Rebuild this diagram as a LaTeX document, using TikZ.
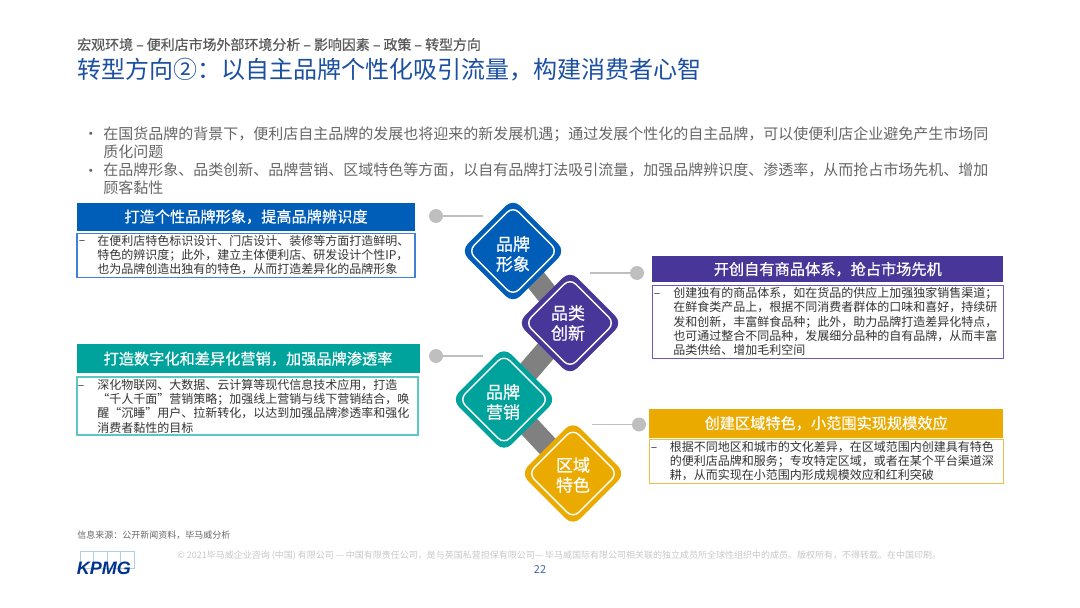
\documentclass[tikz,border=0pt]{standalone}
\usepackage{fontspec}
\setmainfont{Noto Sans CJK SC}
\newfontfamily\midfont[FakeBold=.6]{Noto Sans CJK SC}
\newfontfamily\logofont{Liberation Sans}
\usetikzlibrary{backgrounds}
\definecolor{kblue}{HTML}{005EB8}
\definecolor{kpurple}{HTML}{483698}
\definecolor{kteal}{HTML}{00A39B}
\definecolor{kgold}{HTML}{EAAA00}
\definecolor{kblueline}{HTML}{3F80DC}
\definecolor{kpurpleline}{HTML}{6A58C4}
\definecolor{ktealline}{HTML}{5CC8C2}
\definecolor{kgoldline}{HTML}{F2BC48}
\definecolor{ktitle}{HTML}{1B4FA0}
\definecolor{klogo}{HTML}{00338D}
\definecolor{kpage}{HTML}{4A66B0}
\definecolor{kgrey}{HTML}{666666}
\definecolor{kdot}{HTML}{BFBFBF}
\tikzset{
	plate/.style={rectangle, rotate=45, minimum size=74pt, rounded corners=10pt, inner sep=0pt},
	ring/.style={rectangle, rotate=45, minimum size=63pt, rounded corners=8pt, inner sep=0pt, draw=white, line width=.5mm},
	platetext/.style={text=white, align=center, inner sep=0pt, font=\midfont\fontsize{17}{20}\selectfont},
	link/.style={draw=gray, line width=22pt},
	headbox/.style={rectangle, inner sep=0pt, text=white, font=\midfont\fontsize{15.2}{18}\selectfont},
	bodybox/.style={rectangle, inner sep=0pt, fill=white, line width=.45mm},
	bodytext/.style={anchor=west, align=left, inner sep=0pt, text=black!80, font=\fontsize{12}{14.3}\selectfont},
	bodydash/.style={inner sep=0pt, text=black!80, font=\fontsize{12}{14}\selectfont},
	dot/.style={circle, fill=kdot, minimum size=14pt, inner sep=0pt},
	leader/.style={draw=kdot, line width=.4mm},
	bullet/.style={anchor=west, align=left, inner sep=0pt, text=kgrey, font=\fontsize{15}{18.3}\selectfont},
}
\begin{document}
\begin{tikzpicture}[x=1pt, y=-1pt, line width=.2mm]
	\useasboundingbox (0,0) rectangle (1080,608);
	\node[anchor=west, inner sep=0pt, text=black!65, font=\midfont\fontsize{13.95}{16}\selectfont] (crumb) at (77,44.5) {宏观环境 – 便利店市场外部环境分析 – 影响因素 – 政策 – 转型方向};
	\node[anchor=west, inner sep=0pt, text=ktitle, font=\fontsize{24}{28}\selectfont] (title) at (77,70) {转型方向②：以自主品牌个性化吸引流量，构建消费者心智};
	% bullets
	\node[bullet] (dota) at (83,136) {•};
	\node[bullet] (intro) at (103,142.5) {在国货品牌的背景下，便利店自主品牌的发展也将迎来的新发展机遇；通过发展个性化的自主品牌，可以使便利店企业避免产生市场同\\质化问题};
	\node[bullet] (dotb) at (83,172.5) {•};
	\node[bullet] (introb) at (103,179) {在品牌形象、品类创新、品牌营销、区域特色等方面，以自有品牌打法吸引流量，加强品牌辨识度、渗透率，从而抢占市场先机、增加\\顾客黏性};

	% diamonds
	\node[plate, fill=kblue] (xingxiang) at (513,251) {};
		\node[ring] (xingxiangring) at (513,251) {};
		\node[platetext] (xingxiangtext) at (513,254) {品牌\\形象};
	\node[plate, fill=kpurple] (chuangxin) at (570,323) {};
		\node[ring] (chuangxinring) at (570,323) {};
		\node[platetext] (chuangxintext) at (568,323) {品类\\创新};
	\node[plate, fill=kteal] (yingxiao) at (504,399.5) {};
		\node[ring] (yingxiaoring) at (504,399.5) {};
		\node[platetext] (yingxiaotext) at (503,402) {品牌\\营销};
	\node[plate, fill=kgold] (tese) at (573,473.5) {};
		\node[ring] (teseing) at (573,473.5) {};
		\node[platetext] (tesetext) at (573,475) {区域\\特色};
	\begin{scope}[on background layer]
		\draw[link] (xingxiang.center) -- (chuangxin.center);
		\draw[link] (chuangxin.center) -- (yingxiao.center);
		\draw[link] (yingxiao.center) -- (tese.center);
	\end{scope}

	% leaders
	\node[dot] (dotxingxiang) at (436,216) {};
		\coordinate (endxingxiang) at (483,216);
		\draw[leader] (dotxingxiang) -- (endxingxiang);
	\node[dot] (dotchuangxin) at (637,273) {};
		\coordinate (endchuangxin) at (590,273);
		\draw[leader] (dotchuangxin) -- (endchuangxin);
	\node[dot] (dotyingxiao) at (436,356) {};
		\coordinate (endyingxiao) at (483,356);
		\draw[leader] (dotyingxiao) -- (endyingxiao);
	\node[dot] (dottese) at (639,424.5) {};
		\coordinate (endtese) at (592,424.5);
		\draw[leader] (dottese) -- (endtese);

	% left column
	\node[headbox, fill=kblue, minimum width=338pt, minimum height=28pt] (heada) at (246,216.7) {打造个性品牌形象，提高品牌辨识度};
	\node[bodybox, draw=kblueline, minimum width=338pt, minimum height=43.5pt] (boxa) at (246,255.5) {};
		\node[bodydash] (dasha) at (82,242.5) {–};
		\node[bodytext] (texta) at (97,255) {在便利店特色标识设计、门店设计、装修等方面打造鲜明、\\特色的辨识度；此外，建立主体便利店、研发设计个性IP，\\也为品牌创造出独有的特色，从而打造差异化的品牌形象};
	\node[headbox, fill=kteal, minimum width=343pt, minimum height=29pt] (headb) at (248,358.8) {打造数字化和差异化营销，加强品牌渗透率};
	\node[bodybox, draw=ktealline, minimum width=341pt, minimum height=58pt] (boxb) at (247.5,406) {};
		\node[bodydash] (dashb) at (81,387.5) {–};
		\node[bodytext] (textb) at (97,406) {深化物联网、大数据、云计算等现代信息技术应用，打造\\“千人千面”营销策略；加强线上营销与线下营销结合，唤\\醒“沉睡”用户、拉新转化，以达到加强品牌渗透率和强化\\消费者黏性的目标};

	% right column
	\node[headbox, fill=kpurple, minimum width=351pt, minimum height=26.5pt] (headc) at (827.8,269.2) {开创自有商品体系，抢占市场先机};
	\node[bodybox, draw=kpurpleline, minimum width=351pt, minimum height=73pt] (boxc) at (827.8,321.8) {};
		\node[bodydash] (dashc) at (657,295.5) {–};
		\node[bodytext] (textc) at (673,321.5) {创建独有的商品体系，如在货品的供应上加强独家销售渠道；\\在鲜食类产品上，根据不同消费者群体的口味和喜好，持续研\\发和创新，丰富鲜食品种；此外，助力品牌打造差异化特点，\\也可通过整合不同品种，发展细分品种的自有品牌，从而丰富\\品类供给、增加毛利空间};
	\node[headbox, fill=kgold, minimum width=354pt, minimum height=29pt] (headd) at (826.2,423.2) {创建区域特色，小范围实现规模效应};
	\node[bodybox, draw=kgoldline, minimum width=354pt, minimum height=44pt] (boxd) at (826.2,461.3) {};
		\node[bodydash] (dashd) at (654,449.5) {–};
		\node[bodytext] (textd) at (669.5,461) {根据不同地区和城市的文化差异，在区域范围内创建具有特色\\的便利店品牌和服务；专攻特定区域，或者在某个平台渠道深\\耕，从而实现在小范围内形成规模效应和红利突破};

	% footer
	\node[anchor=west, inner sep=0pt, text=kgrey, font=\fontsize{9}{11}\selectfont] (source) at (77,535) {信息来源：公开新闻资料，毕马威分析};
	\foreach \i in {0,1,2,3}
		\draw[draw=kblue!30, line width=.2mm] (80+13.5*\i,551) rectangle (93.5+13.5*\i,568);
	\node[anchor=west, inner sep=0pt, text=klogo, font=\logofont\fontsize{18}{18}\selectfont\bfseries\itshape] (logo) at (76.5,568) {KPMG};
	\node[anchor=west, inner sep=0pt, text=black!22, font=\fontsize{9}{11}\selectfont] (legal) at (177,555.5) {© 2021毕马威企业咨询 (中国) 有限公司 — 中国有限责任公司，是与英国私营担保有限公司— 毕马威国际有限公司相关联的独立成员所全球性组织中的成员。版权所有，不得转载。在中国印刷。};
	\node[inner sep=0pt, text=kpage, font=\fontsize{11}{13}\selectfont] (pagenum) at (540,570) {22};
\end{tikzpicture}
\end{document}
